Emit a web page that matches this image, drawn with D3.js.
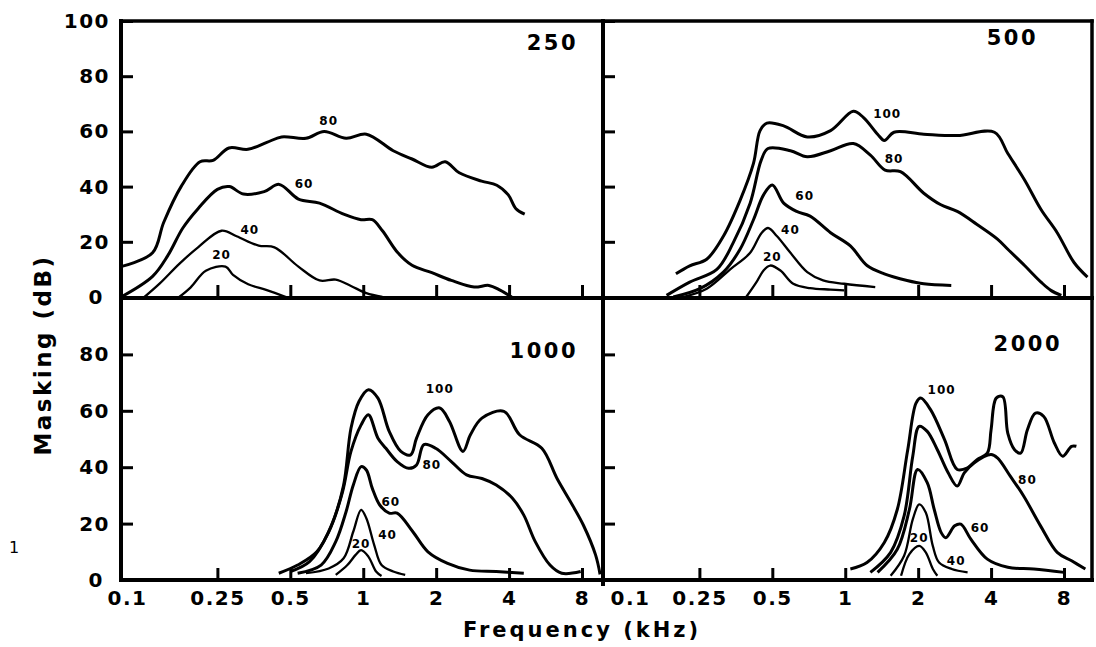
<!DOCTYPE html>
<html>
<head>
<meta charset="utf-8">
<script src="https://cdn.jsdelivr.net/npm/d3@7"></script>
<style>
  body { margin: 0; background: #fff; }
  svg text { font-family: "DejaVu Sans", sans-serif; fill: #000; }
</style>
</head>
<body>
<svg id="chart" width="1096" height="647"></svg>
<script>
// tick values / labels
var freqTicks = [0.1, 0.25, 0.5, 1, 2, 4, 8]
var freqLabels = ["0.1", "0.25", "0.5", "1", "2", "4", "8"]
var dbTicksTop = [0, 20, 40, 60, 80, 100]
var dbTicksBottom = [0, 20, 40, 60, 80]
var panelNames = ["250", "500", "1000", "2000"]

// masking curves, [frequency kHz, masking dB], one per masker level
var t250_80 = [[0.1,11],[0.135,16],[0.15,27],[0.177,40],[0.212,49],[0.24,49.5],[0.279,54],[0.334,53.5],[0.40,56],[0.46,58],[0.58,57.5],[0.69,60],[0.85,57.5],[1.03,59],[1.33,53],[1.59,50],[1.92,47],[2.18,49],[2.49,45],[3.08,42],[3.56,40.5],[3.97,37],[4.27,32],[4.64,30]]
var t250_60 = [[0.1,0],[0.135,7.5],[0.156,15],[0.18,25],[0.208,32],[0.25,39],[0.28,40],[0.32,37.3],[0.39,38.2],[0.45,40.8],[0.54,35.5],[0.66,34],[0.83,30],[0.98,28],[1.09,28],[1.2,24],[1.39,16],[1.59,11.5],[1.92,8.8],[2.31,6],[2.87,3.6],[3.3,4.2],[3.67,2.5],[4.1,0]]
var t250_40 = [[0.125,0],[0.145,5],[0.174,12],[0.208,18],[0.26,24],[0.30,22],[0.37,18.6],[0.43,18],[0.54,11],[0.66,6],[0.77,6.3],[0.89,4],[1.03,1.4],[1.2,0]]
var t250_20 = [[0.174,0],[0.194,3.5],[0.224,9.5],[0.27,11],[0.29,8],[0.335,4.6],[0.4,2.5],[0.48,0]]
var lab250 = [["80",0.72,64],["60",0.57,41],["40",0.34,24.5],["20",0.26,15.5]]

var t500_100 = [[0.2,8.4],[0.228,11.3],[0.268,13.7],[0.314,22],[0.368,35],[0.418,48.4],[0.445,60.3],[0.475,63],[0.557,62],[0.697,58],[0.87,60.3],[1.08,67.3],[1.19,65],[1.36,59],[1.45,56.7],[1.59,59.7],[2.11,59],[2.9,58.5],[4.13,59.7],[4.69,52],[5.5,42.4],[6.43,31.7],[7.5,23.3],[8.8,12.5],[10.0,7.2]]
var t500_80 = [[0.183,0.6],[0.228,5.4],[0.295,10],[0.345,19.7],[0.405,34],[0.45,49.6],[0.48,53.8],[0.594,53],[0.697,50.8],[0.87,53],[1.08,55.6],[1.27,51.4],[1.46,46],[1.69,45.4],[2.11,37.6],[2.47,33.5],[2.9,31],[3.5,26.3],[4.25,21],[4.69,17.3],[5.5,11.4],[6.43,5.4],[7.06,2.4],[7.8,0.6]]
var t500_60 = [[0.195,0],[0.251,3],[0.314,9],[0.368,17.3],[0.418,28],[0.46,37],[0.5,40.6],[0.557,34],[0.63,31],[0.716,29.3],[0.87,23.3],[1.05,18.5],[1.23,11.4],[1.45,8.4],[1.8,6],[2.11,4.8],[2.74,4.2]]
var t500_40 = [[0.214,0],[0.268,3],[0.335,10],[0.405,16],[0.45,23],[0.48,25],[0.523,22],[0.594,16],[0.697,9],[0.81,6],[0.99,4.8],[1.33,3.6]]
var t500_20 = [[0.39,0],[0.43,5.4],[0.46,9.6],[0.49,11.4],[0.54,9.6],[0.61,4.8],[0.716,3.2],[0.87,2.7],[0.99,2.4]]
var lab500 = [["100",1.49,66.5],["80",1.59,50],["60",0.68,36.7],["40",0.594,24.5],["20",0.5,14.7]]

var t1000_100 = [[0.448,2.4],[0.536,5.3],[0.643,10],[0.74,19.5],[0.83,33.7],[0.89,53.8],[0.96,63.3],[1.05,67.5],[1.15,64.5],[1.28,52.7],[1.43,45.6],[1.57,44.4],[1.66,50.3],[1.85,58.6],[2.07,61],[2.27,56.2],[2.58,45.6],[2.77,51.5],[3.09,57.4],[3.81,59.8],[4.42,51.5],[5.46,46.7],[6.31,36],[7.3,26.6],[8.1,19.5],[9.1,8.9],[9.5,2]]
var t1000_80 = [[0.5,3],[0.6,6.5],[0.72,17],[0.82,31],[0.89,45.6],[0.98,55],[1.05,58.6],[1.15,50.3],[1.24,46.7],[1.38,42],[1.54,39.6],[1.66,40.8],[1.78,48],[1.99,46.7],[2.31,42],[2.67,37.3],[3.09,36],[3.54,33.7],[4.13,29],[4.6,23],[5.13,13.6],[5.9,5.3],[6.6,2.4],[7.9,3]]
var t1000_60 = [[0.536,2.4],[0.67,5.3],[0.77,13.6],[0.85,24.3],[0.91,33.7],[0.98,40.2],[1.03,39],[1.09,32.5],[1.17,26.6],[1.28,23.7],[1.38,23.7],[1.6,17.2],[1.85,10],[2.23,5.9],[2.75,3.5],[3.54,3],[4.6,2.4]]
var t1000_40 = [[0.58,2.4],[0.72,4.1],[0.83,7.7],[0.91,17.2],[0.98,24.9],[1.03,21.9],[1.11,12.4],[1.19,5.3],[1.33,3],[1.49,1.8]]
var t1000_20 = [[0.77,1.8],[0.86,5.3],[0.93,8.9],[0.98,10.6],[1.05,8.3],[1.13,3],[1.19,1.4]]
var lab1000 = [["100",2.07,68],["80",1.92,40.8],["60",1.3,27.8],["40",1.26,16],["20",0.98,13]]

var t2000_100 = [[1.05,3.9],[1.23,6.2],[1.45,13.3],[1.64,25],[1.81,46],[1.96,62.7],[2.05,64.5],[2.25,60.4],[2.57,49.8],[2.9,39.2],[3.2,39.8],[3.5,42.7],[3.86,45],[4.0,53.3],[4.2,64.5],[4.47,65],[4.69,52],[5.0,46.2],[5.3,45],[5.65,53.3],[6.1,59.2],[6.6,58],[7.3,48.6],[7.9,43.9],[8.6,47.4],[9.0,47.4]]
var t2000_80 = [[1.27,2.7],[1.54,9.8],[1.75,22.7],[1.9,43.9],[2.02,54.5],[2.18,52.7],[2.4,46.2],[2.66,38],[2.9,33.3],[3.1,38],[3.4,41.5],[4.0,44.5],[4.25,43.3],[4.8,36.8],[5.45,29.8],[6.4,19.2],[7.5,9.8],[8.6,6.8],[9.8,3.9]]
var t2000_60 = [[1.36,2.7],[1.64,10.9],[1.84,25],[1.99,39.2],[2.18,34.5],[2.33,25],[2.49,16.8],[2.6,15],[2.83,19.2],[3.0,19.8],[3.3,14.5],[3.86,7.4],[4.69,4.5],[6.0,3.9],[8.0,2.7]]
var t2000_40 = [[1.54,1.5],[1.75,8.6],[1.9,21.5],[2.02,26.8],[2.15,23.9],[2.3,12],[2.44,6.2],[2.75,3.9],[3.2,2.7]]
var t2000_20 = [[1.7,1.5],[1.84,9.2],[2.02,12.1],[2.15,9.8],[2.3,3.9],[2.4,1.5]]
var lab2000 = [["100",2.5,67.6],["80",5.65,35.6],["60",3.6,18.6],["40",2.87,6.8],["20",2.02,15]]

var panels = [
    {name: panelNames[0], col: 0, row: 0, curves: [[80, t250_80], [60, t250_60], [40, t250_40], [20, t250_20]], labels: lab250},
    {name: panelNames[1], col: 1, row: 0, curves: [[100, t500_100], [80, t500_80], [60, t500_60], [40, t500_40], [20, t500_20]], labels: lab500},
    {name: panelNames[2], col: 0, row: 1, curves: [[100, t1000_100], [80, t1000_80], [60, t1000_60], [40, t1000_40], [20, t1000_20]], labels: lab1000},
    {name: panelNames[3], col: 1, row: 1, curves: [[100, t2000_100], [80, t2000_80], [60, t2000_60], [40, t2000_40], [20, t2000_20]], labels: lab2000}
]

var dims = {
    colLeft: [121, 603],
    colRight: [603, 1092],
    titleRight: [[578, 1038], [578, 1062]],
    titleY: [[42, 37], [350, 343]]
}

var svg = d3.select("#chart")

var xScale = d3.scaleLog().domain([0.1, 8]).range([0, 461])
var yScales = [
    d3.scaleLinear().domain([0, 100]).range([297, 21]),
    d3.scaleLinear().domain([0, 100]).range([580, 298])
]

var line = function(y, x0) {
    return d3.line()
             .x(d => x0 + xScale(d[0]))
             .y(d => y(d[1]))
             .curve(d3.curveCatmullRom.alpha(0.5))
}

// frame
var frame = svg.append("g").attr("stroke", "#000").attr("stroke-linecap", "square")
var left = dims.colLeft[0], mid = dims.colLeft[1], right = dims.colRight[1]
var yTop = yScales[0](100), yMid = yScales[0](0), yBot = yScales[1](0)
frame.append("line").attr("x1", left).attr("x2", right).attr("y1", yTop).attr("y2", yTop).attr("stroke-width", 3.5)
frame.append("line").attr("x1", left).attr("x2", right).attr("y1", yMid + 1).attr("y2", yMid + 1).attr("stroke-width", 4)
frame.append("line").attr("x1", left).attr("x2", right).attr("y1", yBot).attr("y2", yBot).attr("stroke-width", 4)
frame.append("line").attr("x1", left).attr("x2", left).attr("y1", yTop).attr("y2", yBot).attr("stroke-width", 4)
frame.append("line").attr("x1", mid).attr("x2", mid).attr("y1", yTop).attr("y2", yBot + 4).attr("stroke-width", 4)
frame.append("line").attr("x1", right).attr("x2", right).attr("y1", yTop).attr("y2", yBot).attr("stroke-width", 3.5)

function styleAxis(g) {
    g.select(".domain").remove()
    g.selectAll(".tick line").attr("stroke", "#000").attr("stroke-width", 3)
    g.selectAll(".tick text")
     .attr("font-family", "DejaVu Sans, sans-serif")
     .attr("font-weight", "bold")
     .attr("font-size", 20)
     .attr("letter-spacing", 1.5)
     .attr("fill", "#000")
}

panels.forEach(function(p) {
    var y = yScales[p.row]
    var x0 = dims.colLeft[p.col]

    // y ticks, inward
    var yAxisGen = d3.axisLeft(y)
                     .tickValues(p.row === 0 ? dbTicksTop : dbTicksBottom)
                     .tickSizeInner(-12)
                     .tickSizeOuter(0)
                     .tickPadding(11)
                     .tickFormat(p.col === 0 ? d3.format("d") : "")
    var yg = svg.append("g")
                .attr("transform", `translate(${x0},0)`)
                .call(yAxisGen)
                .call(styleAxis)
    // the zero sits a little further left, clear of the 0.1 label
    yg.selectAll(".tick text").filter(d => d === 0).attr("x", -17)

    // x ticks, inward
    var xAxisGen = d3.axisBottom(xScale)
                     .tickValues(freqTicks)
                     .tickSizeInner(-12)
                     .tickSizeOuter(0)
                     .tickPadding(11)
                     .tickFormat((d, i) => p.row === 1 ? freqLabels[i] : "")
    var xg = svg.append("g")
                .attr("transform", `translate(${x0},${y(0)})`)
                .call(xAxisGen)
                .call(styleAxis)
    xg.selectAll(".tick text").filter((d, i) => i === 0)
      .attr("text-anchor", "start").attr("x", p.col === 1 ? 7 : -14)

    // curves
    var gen = line(y, x0)
    svg.append("g")
       .selectAll("path")
       .data(p.curves)
       .enter()
       .append("path")
       .attr("d", d => gen(d[1]))
       .attr("fill", "none")
       .attr("stroke", "#000")
       .attr("stroke-width", d => d[0] >= 60 ? 3 : 2.3)
       .attr("stroke-linejoin", "round")

    // curve labels
    svg.append("g")
       .selectAll("text")
       .data(p.labels)
       .enter()
       .append("text")
       .attr("x", d => x0 + xScale(d[1]))
       .attr("y", d => y(d[2]))
       .attr("dy", "0.36em")
       .attr("text-anchor", "middle")
       .attr("font-size", 12)
       .attr("font-weight", "bold")
       .attr("letter-spacing", 1)
       .text(d => d[0])

    // panel title
    svg.append("text")
       .attr("x", dims.titleRight[p.row][p.col])
       .attr("y", dims.titleY[p.row][p.col])
       .attr("dy", "0.36em")
       .attr("text-anchor", "end")
       .attr("font-size", 21)
       .attr("font-weight", "bold")
       .attr("letter-spacing", 2.5)
       .text(p.name)
})

svg.append("text")
   .attr("x", 582)
   .attr("y", 637)
   .attr("text-anchor", "middle")
   .attr("font-size", 21)
   .attr("font-weight", "bold")
   .attr("letter-spacing", 3)
   .text("Frequency (kHz)")

svg.append("text")
   .attr("transform", "translate(51,355) rotate(-90)")
   .attr("text-anchor", "middle")
   .attr("font-size", 23)
   .attr("font-weight", "bold")
   .attr("letter-spacing", 2.5)
   .text("Masking (dB)")

svg.append("text")
   .attr("x", 14)
   .attr("y", 553)
   .attr("text-anchor", "middle")
   .attr("font-size", 16)
   .text("1")
</script>
</body>
</html>
